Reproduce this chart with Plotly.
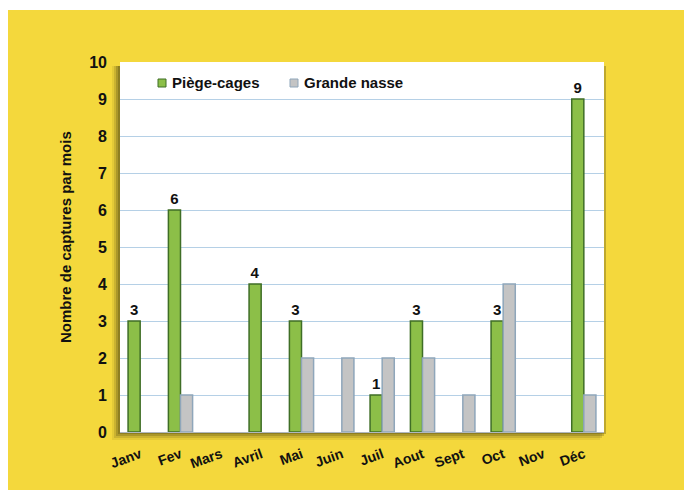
import plotly.graph_objects as go

months = ["Janv", "Fev", "Mars", "Avril", "Mai", "Juin", "Juil", "Aout", "Sept", "Oct", "Nov", "Déc"]
piege_cages = [3, 6, 0, 4, 3, 0, 1, 3, 0, 3, 0, 9]
grande_nasse = [0, 1, 0, 0, 2, 2, 2, 2, 1, 4, 0, 1]
y_ticks = list(range(0, 11))

W, H = 684, 490
L, R, T, B = 120, 80, 62, 58
pw, ph = W - L - R, H - T - B

def px_x(p):  # page x -> paper
    return (p - L) / pw

def px_y(p):  # page y -> paper
    return (H - B - p) / ph

font_fam = "Liberation Sans, Arial, sans-serif"

def nz(vals):
    return [v if v > 0 else None for v in vals]

fig = go.Figure()
fig.add_trace(go.Bar(
    x=months, y=nz(piege_cages), name="Piège-cages",
    marker=dict(color="#8CBF48", line=dict(color="#3F6E26", width=1.5)),
    text=[str(v) if v > 0 else "" for v in piege_cages],
    textposition="outside", cliponaxis=False,
    textfont=dict(family=font_fam, size=15, color="#111111", weight="bold"),
))
fig.add_trace(go.Bar(
    x=months, y=nz(grande_nasse), name="Grande nasse",
    marker=dict(color="#C4C4C4", line=dict(color="#8FA6BA", width=1.5)),
))

shapes = [
    dict(type="rect", xref="paper", yref="paper", layer="below",
         x0=px_x(8), x1=px_x(700), y0=px_y(500), y1=px_y(10),
         fillcolor="#F4D83C", line=dict(width=0)),
]
for off, op in [(8, 0.10), (6, 0.18), (4, 0.28), (2, 0.35)]:
    shapes.append(dict(type="rect", xref="paper", yref="paper", layer="below",
                       x0=px_x(120 - off), x1=px_x(604 - off + 4),
                       y0=px_y(432 + off), y1=px_y(62 + 4),
                       fillcolor=f"rgba(90,80,20,{op})", line=dict(width=0)))
shapes.append(dict(type="rect", xref="paper", yref="paper", layer="below",
                   x0=0, x1=1, y0=0, y1=1,
                   fillcolor="#FFFFFF", line=dict(width=0)))

legend_items = [("Piège-cages", "#8CBF48", "#3F6E26", 158), ("Grande nasse", "#C4C4C4", "#8FA6BA", 290)]
annotations = []
for name, fc, lc, xs in legend_items:
    shapes.append(dict(type="rect", xref="paper", yref="paper", layer="above",
                       x0=px_x(xs), x1=px_x(xs + 8), y0=px_y(87), y1=px_y(79),
                       fillcolor=fc, line=dict(color=lc, width=1)))
    annotations.append(dict(text=name, xref="paper", yref="paper",
                            x=px_x(xs + 12), y=px_y(83), xanchor="left", yanchor="middle",
                            showarrow=False,
                            font=dict(family=font_fam, size=15, color="#111111", weight="bold")))
annotations.append(dict(text="Nombre de captures par mois", xref="paper", yref="paper",
                        x=px_x(65), y=px_y(237), xanchor="center", yanchor="middle",
                        textangle=-90, showarrow=False,
                        font=dict(family=font_fam, size=15, color="#111111", weight="bold")))

fig.update_layout(
    width=W, height=H,
    margin=dict(l=L, r=R, t=T, b=B, pad=0),
    paper_bgcolor="#FFFFFF",
    plot_bgcolor="rgba(0,0,0,0)",
    barmode="group",
    bargap=0.4,
    bargroupgap=0.0,
    font=dict(family=font_fam, color="#111111"),
    showlegend=False,
    shapes=shapes,
    annotations=annotations,
)

fig.update_xaxes(
    tickangle=-20,
    tickfont=dict(family=font_fam, size=14, color="#111111", weight="bold"),
    ticklabelstandoff=8,
    showline=True, linecolor="#B0B8C0", linewidth=1,
    ticks="", showgrid=False,
)
fig.update_yaxes(
    range=[0, 10], tickvals=y_ticks,
    tickfont=dict(family=font_fam, size=16, color="#111111", weight="bold"),
    ticks="", ticklen=0, ticklabelstandoff=12,
    showgrid=True, gridcolor="#B5D0E6", gridwidth=1,
    zeroline=False, showline=False,
)

fig.write_html("out.html",
               config={"displayModeBar": False},
               post_script="document.body.style.margin='0';document.body.style.overflow='hidden';")
